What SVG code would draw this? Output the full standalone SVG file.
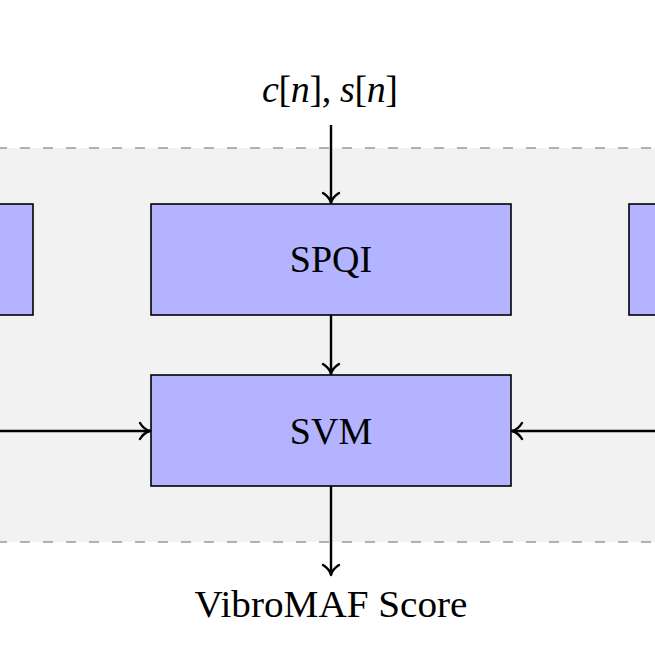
<svg xmlns="http://www.w3.org/2000/svg" width="655" height="655" viewBox="0 0 655 655">
<defs>
<style>
.box{fill:#b3b3ff;stroke:#000;stroke-width:1.6}
.dash{stroke:#999;stroke-width:1.3;stroke-dasharray:10 13;fill:none}
.conn{stroke:#000;stroke-width:2.4;fill:none;marker-end:url(#arr)}
.lbl{font-family:"Liberation Serif","Times New Roman",serif;font-size:38px;fill:#000;text-anchor:middle}
</style>
<marker id="arr" markerUnits="userSpaceOnUse" viewBox="-12 -10 14 20" refX="0" refY="0" markerWidth="14" markerHeight="20" orient="auto">
<path d="M-10,-8 C-7,-3 -3,-0.8 0,0 C-3,0.8 -7,3 -10,8" fill="none" stroke="#000" stroke-width="2.4" stroke-linecap="round" stroke-linejoin="round"/>
</marker>
</defs>
<rect x="0" y="0" width="655" height="655" fill="#fff"/>
<g id="band">
<rect x="0" y="148" width="655" height="394" fill="#f2f2f2"/>
<line class="dash" x1="-3" y1="148" x2="655" y2="148"/>
<line class="dash" x1="-3" y1="542" x2="655" y2="542"/>
</g>
<g id="input-label">
<text class="lbl" x="330" y="102" font-size="40" textLength="136" lengthAdjust="spacing"><tspan font-style="italic">c</tspan>[<tspan font-style="italic">n</tspan>], <tspan font-style="italic">s</tspan>[<tspan font-style="italic">n</tspan>]</text>
</g>
<g id="left-box"><rect class="box" x="-10" y="204" width="43" height="111"/></g>
<g id="right-box"><rect class="box" x="629" y="204" width="40" height="111"/></g>
<g id="spqi"><rect class="box" x="151" y="204" width="360" height="111"/><text class="lbl" x="331" y="272">SPQI</text></g>
<g id="svm"><rect class="box" x="151" y="375" width="360" height="111"/><text class="lbl" x="331" y="444">SVM</text></g>
<g id="output-label"><text class="lbl" x="331" y="617" textLength="273" lengthAdjust="spacingAndGlyphs">VibroMAF Score</text></g>
<g id="connectors">
<line class="conn" x1="331" y1="125" x2="331" y2="203"/>
<line class="conn" x1="331" y1="315" x2="331" y2="374"/>
<line class="conn" x1="331" y1="486" x2="331" y2="575"/>
<line class="conn" x1="0" y1="431" x2="150" y2="431"/>
<line class="conn" x1="655" y1="431" x2="512" y2="431"/>
</g>
</svg>
